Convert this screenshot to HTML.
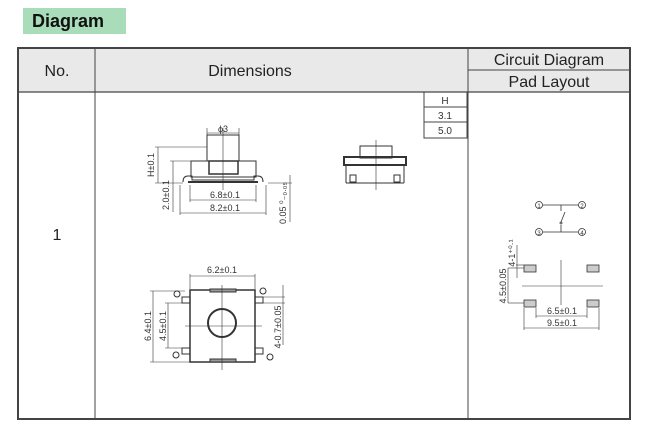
<!DOCTYPE html>
<html><head><meta charset="utf-8"><style>
body{margin:0;width:659px;height:428px;background:#fff;position:relative;overflow:hidden;font-family:"Liberation Sans",sans-serif}
.tag{position:absolute;left:23px;top:8px;width:103px;height:26px;background:#a9dcb9;font-weight:bold;font-size:18px;line-height:26px;padding-left:9px;box-sizing:border-box;color:#111}
svg{position:absolute;left:0;top:0}
</style></head><body>
<div class="tag">Diagram</div>
<svg width="659" height="428" viewBox="0 0 659 428" font-family="Liberation Sans, sans-serif">
<rect x="18" y="48" width="612" height="44" fill="#e9e9e9"/>
<rect x="18" y="48" width="612" height="371" fill="none" stroke="#444" stroke-width="2"/>
<line x1="18" y1="92" x2="630" y2="92" stroke="#444" stroke-width="1.2"/>
<line x1="95" y1="48" x2="95" y2="419" stroke="#444" stroke-width="1"/>
<line x1="468" y1="48" x2="468" y2="419" stroke="#444" stroke-width="1"/>
<line x1="468" y1="70" x2="630" y2="70" stroke="#444" stroke-width="1"/>
<text x="57" y="76" font-size="16" text-anchor="middle" fill="#222">No.</text>
<text x="250" y="76" font-size="16" text-anchor="middle" fill="#222">Dimensions</text>
<text x="549" y="65" font-size="16" text-anchor="middle" fill="#222">Circuit Diagram</text>
<text x="549" y="87" font-size="16" text-anchor="middle" fill="#222">Pad Layout</text>
<text x="57" y="240" font-size="16" text-anchor="middle" fill="#222">1</text>
<!-- H table -->
<g stroke="#444" fill="none" stroke-width="1"><rect x="424" y="92" width="43" height="46"/><line x1="424" y1="107" x2="467" y2="107"/><line x1="424" y1="122" x2="467" y2="122"/></g>
<g font-size="10" text-anchor="middle" fill="#333"><text x="445" y="104">H</text><text x="445" y="119">3.1</text><text x="445" y="134">5.0</text></g>
<!-- side view -->
<g stroke="#333" fill="none" stroke-width="1">
<rect x="207" y="135" width="32" height="26"/>
<rect x="191" y="161" width="65" height="16"/>
<rect x="209" y="161" width="29" height="13" stroke-width="1.5"/>
<path d="M183 182 q0-6 5-6 h4 v4 h62 v-4 h4 q5 0 5 6" />
<line x1="188" y1="182" x2="258" y2="182" stroke-width="2"/>
<line x1="223" y1="128" x2="223" y2="190" stroke-width="0.6"/>
<line x1="207" y1="133" x2="239" y2="133" stroke-width="0.6"/><line x1="207" y1="128" x2="207" y2="135" stroke-width="0.6"/><line x1="239" y1="128" x2="239" y2="135" stroke-width="0.6"/>
<g stroke-width="0.6">
<line x1="155" y1="147" x2="207" y2="147"/><line x1="155" y1="183" x2="183" y2="183"/><line x1="158" y1="147" x2="158" y2="183"/>
<line x1="170" y1="161" x2="191" y2="161"/><line x1="173" y1="161" x2="173" y2="212"/>
<line x1="190" y1="185" x2="190" y2="202"/><line x1="256" y1="185" x2="256" y2="202"/><line x1="190" y1="200" x2="256" y2="200"/>
<line x1="180" y1="185" x2="180" y2="215"/><line x1="266" y1="185" x2="266" y2="215"/><line x1="180" y1="213" x2="266" y2="213"/>
<line x1="290" y1="175" x2="290" y2="222"/><line x1="268" y1="183" x2="292" y2="183"/>
</g></g>
<g font-size="9" fill="#333" text-anchor="middle">
<text x="223" y="132">ϕ3</text>
<text x="225" y="198">6.8±0.1</text>
<text x="225" y="211">8.2±0.1</text>
<text transform="translate(154,165) rotate(-90)">H±0.1</text>
<text transform="translate(169,195) rotate(-90)">2.0±0.1</text>
<text transform="translate(286,203) rotate(-90)">0.05 ⁰₋₀.₀₅</text>
</g>
<!-- right side -->
<g stroke="#333" fill="none" stroke-width="1">
<rect x="360" y="146" width="32" height="12"/>
<rect x="344" y="157" width="62" height="8" stroke-width="2"/>
<line x1="346" y1="165" x2="346" y2="183"/><line x1="404" y1="165" x2="404" y2="183"/>
<line x1="346" y1="183" x2="404" y2="183"/>
<rect x="350" y="175" width="6" height="7"/><rect x="394" y="175" width="6" height="7"/>
<line x1="376" y1="140" x2="376" y2="190" stroke-width="0.6"/>
</g>
<!-- top view -->
<g stroke="#333" fill="none" stroke-width="1">
<rect x="190" y="290" width="65" height="72" stroke-width="1.5"/>
<rect x="210" y="289" width="26" height="3" fill="#999"/>
<rect x="210" y="359" width="26" height="3" fill="#999"/>
<circle cx="222" cy="323" r="14" stroke-width="2"/>
<line x1="222" y1="285" x2="222" y2="370" stroke-width="0.6"/><line x1="185" y1="326" x2="262" y2="326" stroke-width="0.6"/>
<rect x="182" y="297" width="8" height="6"/><rect x="182" y="348" width="8" height="6"/>
<rect x="255" y="297" width="8" height="6"/><rect x="255" y="348" width="8" height="6"/>
<circle cx="177" cy="294" r="3"/><circle cx="176" cy="355" r="3"/><circle cx="263" cy="291" r="3"/><circle cx="270" cy="357" r="3"/>
<g stroke-width="0.6">
<line x1="190" y1="274" x2="190" y2="289"/><line x1="255" y1="274" x2="255" y2="289"/><line x1="190" y1="276" x2="255" y2="276"/>
<line x1="150" y1="291" x2="185" y2="291"/><line x1="150" y1="362" x2="190" y2="362"/><line x1="153" y1="291" x2="153" y2="362"/>
<line x1="165" y1="303" x2="182" y2="303"/><line x1="165" y1="348" x2="182" y2="348"/><line x1="168" y1="303" x2="168" y2="348"/>
<line x1="263" y1="297" x2="285" y2="297"/><line x1="263" y1="303" x2="285" y2="303"/><line x1="283" y1="285" x2="283" y2="345"/>
</g></g>
<g font-size="9" fill="#333" text-anchor="middle">
<text x="222" y="273">6.2±0.1</text>
<text transform="translate(151,326) rotate(-90)">6.4±0.1</text>
<text transform="translate(166,326) rotate(-90)">4.5±0.1</text>
<text transform="translate(281,327) rotate(-90)">4-0.7±0.05</text>
</g>
<!-- circuit -->
<g stroke="#333" fill="none" stroke-width="0.8">
<circle cx="539" cy="205" r="3.5"/><circle cx="582" cy="205" r="3.5"/><circle cx="539" cy="232" r="3.5"/><circle cx="582" cy="232" r="3.5"/>
<line x1="543" y1="205" x2="578" y2="205"/><line x1="543" y1="232" x2="578" y2="232"/>
<line x1="561" y1="205" x2="561" y2="211"/><line x1="561" y1="225" x2="561" y2="232"/>
<line x1="561" y1="222" x2="565" y2="212"/><circle cx="561" cy="223" r="1"/>
<rect x="524" y="265" width="12" height="7" fill="#ccc"/><rect x="587" y="265" width="12" height="7" fill="#ccc"/>
<rect x="524" y="300" width="12" height="7" fill="#ccc"/><rect x="587" y="300" width="12" height="7" fill="#ccc"/>
<line x1="522" y1="286" x2="603" y2="286" stroke-width="0.6"/><line x1="561" y1="260" x2="561" y2="305" stroke-width="0.6"/>
<g stroke-width="0.6">
<line x1="508" y1="268" x2="524" y2="268"/><line x1="508" y1="303" x2="524" y2="303"/><line x1="508" y1="268" x2="508" y2="303"/>
<line x1="516" y1="265" x2="524" y2="265"/><line x1="517" y1="245" x2="517" y2="278"/>
<line x1="536" y1="308" x2="536" y2="318"/><line x1="587" y1="308" x2="587" y2="318"/><line x1="536" y1="316" x2="587" y2="316"/>
<line x1="524" y1="308" x2="524" y2="330"/><line x1="599" y1="308" x2="599" y2="330"/><line x1="524" y1="328" x2="599" y2="328"/>
</g></g>
<g font-size="9" fill="#333" text-anchor="middle">
<text x="539" y="208" font-size="6">1</text><text x="582" y="208" font-size="6">2</text><text x="539" y="235" font-size="6">3</text><text x="582" y="235" font-size="6">4</text>
<text x="562" y="314">6.5±0.1</text>
<text x="562" y="326">9.5±0.1</text>
<text transform="translate(515,253) rotate(-90)">4-1⁺⁰·¹</text>
<text transform="translate(506,286) rotate(-90)">4.5±0.05</text>
</g>
</svg>
</body></html>
